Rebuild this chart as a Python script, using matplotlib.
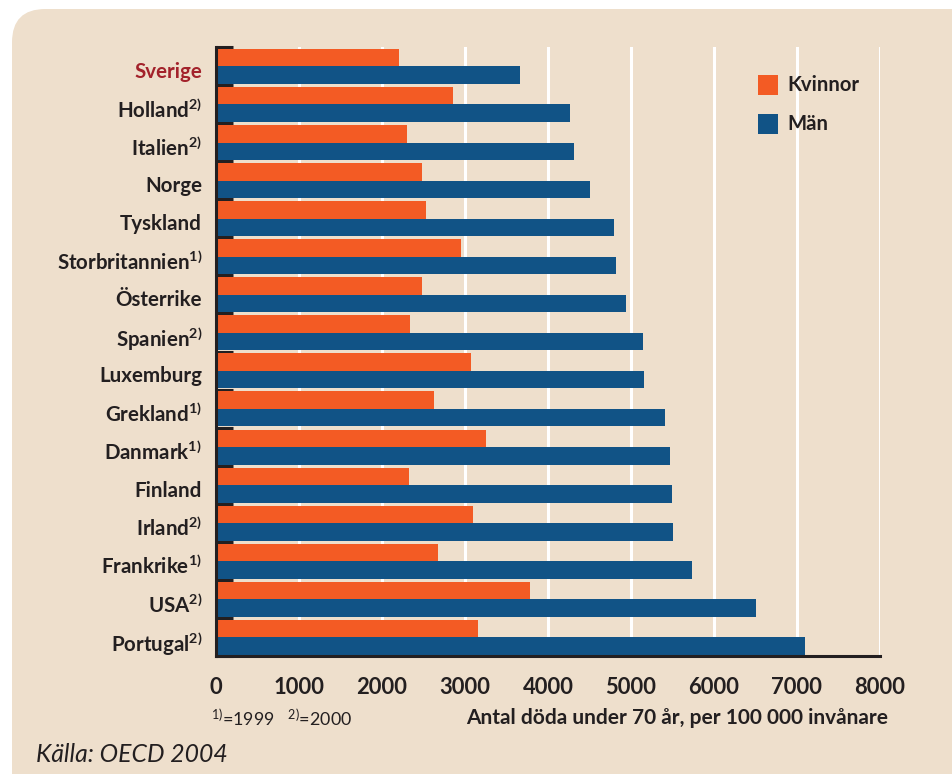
import matplotlib
matplotlib.use("Agg")
import matplotlib.pyplot as plt
from matplotlib.patches import FancyBboxPatch, Rectangle
import numpy as np

plt.rcParams['font.family'] = ['Lato', 'DejaVu Sans']
plt.rcParams['mathtext.fontset'] = 'custom'
plt.rcParams['mathtext.rm'] = 'Lato:bold'
plt.rcParams['mathtext.bf'] = 'Lato:bold'
plt.rcParams['mathtext.sf'] = 'Lato'
plt.rcParams['mathtext.it'] = 'Lato:bold'

countries = ["Sverige", "Holland", "Italien", "Norge", "Tyskland", "Storbritannien",
             "Österrike", "Spanien", "Luxemburg", "Grekland", "Danmark", "Finland",
             "Irland", "Frankrike", "USA", "Portugal"]
notes = ["", "2)", "2)", "", "", "1)", "", "2)", "", "1)", "1)", "", "2)", "1)", "2)", "2)"]
kvinnor = [2200, 2850, 2300, 2480, 2530, 2950, 2480, 2335, 3070, 2625, 3250, 2320,
           3095, 2675, 3785, 3160]
man = [3660, 4260, 4310, 4500, 4790, 4825, 4945, 5150, 5160, 5405, 5475, 5490,
       5510, 5730, 6505, 7095]
xticks = [0, 1000, 2000, 3000, 4000, 5000, 6000, 7000, 8000]

ORANGE = "#F35B24"
BLUE = "#115386"
BG = "#EEDFCC"
DARK = "#231F20"

W, H = 952, 774
fig = plt.figure(figsize=(W / 100, H / 100), dpi=100)
fig.patch.set_facecolor("white")

panel = FancyBboxPatch((12 / W, -0.1), 1.2, (774 - 9) / H + 0.1,
                       boxstyle="round,pad=0,rounding_size=0.035",
                       transform=fig.transFigure, facecolor=BG, edgecolor="none",
                       zorder=-5, mutation_aspect=W / H)
fig.patches.append(panel)

ax = fig.add_axes([216 / W, 1 - 656 / H, (880 - 216) / W, (656 - 47) / H])
ax.set_facecolor("none")
ax.set_zorder(2)

y = np.arange(len(countries))
ax.barh(y - 0.22, kvinnor, height=0.46, color=ORANGE, zorder=3)
ax.barh(y + 0.24, man, height=0.46, color=BLUE, zorder=3)

ax.set_xlim(0, 8000)
ax.set_ylim(len(countries) - 0.5, -0.5)

for xv in xticks[1:]:
    ax.axvline(xv, color="white", lw=2.2, zorder=1)

ax.set_xticks(xticks)
ax.set_xticklabels([str(v) for v in xticks], fontsize=15.8, fontweight="bold", color=DARK)
ax.tick_params(axis="x", length=0, pad=15)

labels = [c + (r"$^{" + n + "}$" if n else "") for c, n in zip(countries, notes)]
ax.set_yticks(y + 0.1)
ax.set_yticklabels(labels, fontsize=14.8, fontweight="bold", color=DARK)
ax.get_yticklabels()[0].set_color("#A3222B")
ax.tick_params(axis="y", which="major", length=0, pad=10)
ax.set_yticks(np.arange(len(countries) + 1) - 0.5, minor=True)
ax.tick_params(axis="y", which="minor", length=12, width=2.2, direction="in", color=DARK)

for s in ["top", "right"]:
    ax.spines[s].set_visible(False)
for s in ["left", "bottom"]:
    ax.spines[s].set_color(DARK)
    ax.spines[s].set_linewidth(2.2)
    ax.spines[s].set_zorder(5)

# legend
for i, (lab, col) in enumerate([("Kvinnor", ORANGE), ("Män", BLUE)]):
    yc = 85 + i * 39
    fig.patches.append(Rectangle((758 / W, 1 - (yc + 10) / H), 20 / W, 20 / H,
                                 transform=fig.transFigure, facecolor=col,
                                 edgecolor="none", zorder=4))
    fig.text(787 / W, 1 - yc / H, lab, fontsize=14.6, fontweight="bold",
             color=DARK, va="center", ha="left")

fig.text(211 / W, 1 - 718 / H, r"$\mathsf{^{1)}}$=1999   $\mathsf{^{2)}}$=2000",
         fontsize=12.9, color=DARK, va="center", ha="left")
fig.text(888 / W, 1 - 718 / H, "Antal döda under 70 år, per 100 000 invånare",
         fontsize=15, fontweight="bold", color=DARK, va="center", ha="right")
fig.text(36 / W, 1 - 755 / H, "Källa: OECD 2004", fontsize=17.8, style="italic",
         color=DARK, va="center", ha="left")

fig.savefig("out.png", dpi=100, facecolor=fig.get_facecolor())
